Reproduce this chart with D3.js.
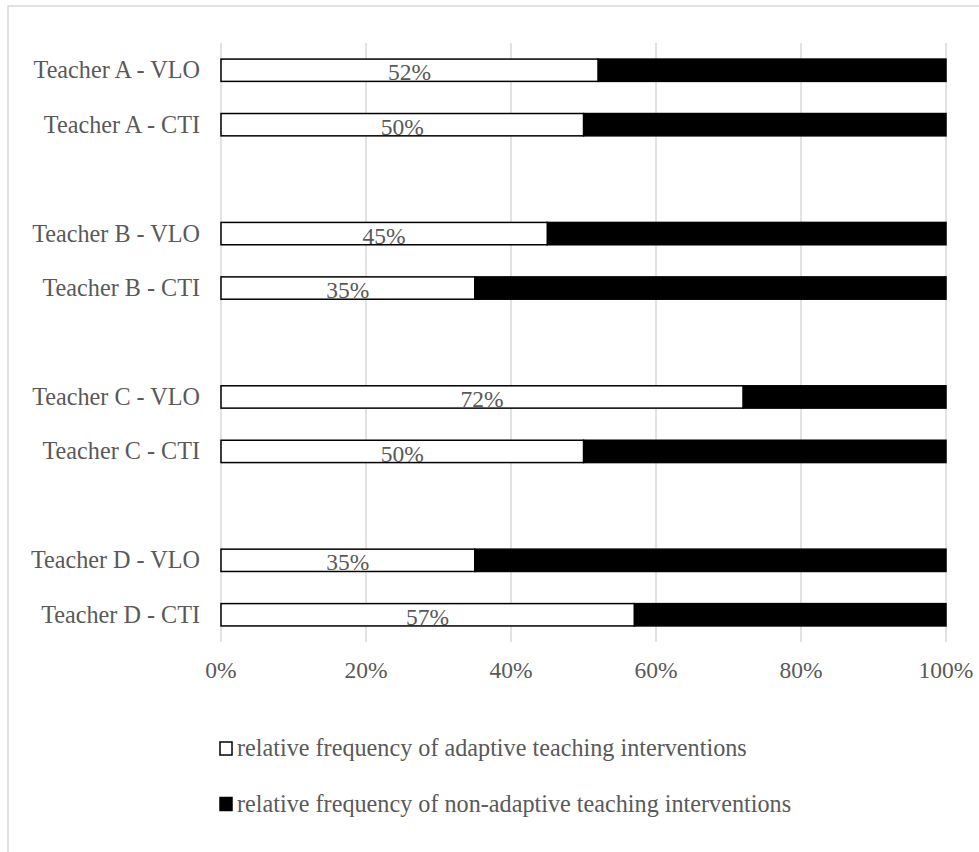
<!DOCTYPE html>
<html>
<head>
<meta charset="utf-8">
<script src="https://cdn.jsdelivr.net/npm/d3@7"></script>
<style>
  body { margin: 0; background: #fff; }
  text { font-family: "Liberation Serif", "Times New Roman", serif; }
</style>
</head>
<body>
<div id="chart"></div>
<script>
// categories top to bottom, blanks are the gaps between teachers
var categories = ["Teacher A - VLO", "Teacher A - CTI", "gap1",
                  "Teacher B - VLO", "Teacher B - CTI", "gap2",
                  "Teacher C - VLO", "Teacher C - CTI", "gap3",
                  "Teacher D - VLO", "Teacher D - CTI"];
var adaptive = [0.52, 0.50, null, 0.45, 0.35, null, 0.72, 0.50, null, 0.35, 0.57];
var nonAdaptive = [0.48, 0.50, null, 0.55, 0.65, null, 0.28, 0.50, null, 0.65, 0.43];
var ticks = [0, 0.2, 0.4, 0.6, 0.8, 1.0];
var legendLabels = ["relative frequency of adaptive teaching interventions",
                    "relative frequency of non-adaptive teaching interventions"];

var width = 979, height = 852;
var margin = { top: 43, left: 221, right: 33, bottom: 210 };
var fs = "23.5px";
var fsLabel = "24.2px";

var svg = d3.select("#chart").append("svg")
    .attr("width", width)
    .attr("height", height);

// outer chart border
svg.append("rect")
    .attr("x", 8).attr("y", 6)
    .attr("width", 990).attr("height", 870)
    .attr("fill", "none")
    .attr("stroke", "#d9d9d9")
    .attr("stroke-width", 1.5);

var x = d3.scaleLinear()
    .domain([0, 1])
    .range([margin.left, width - margin.right]);

var y = d3.scaleBand()
    .domain(categories)
    .range([margin.top, height - margin.bottom])
    .paddingInner(0.59)
    .paddingOuter(0.295);

var yTop = margin.top, yBot = height - margin.bottom;

// gridlines
svg.append("g").selectAll("line")
    .data(ticks)
    .join("line")
    .attr("x1", d => x(d)).attr("x2", d => x(d))
    .attr("y1", yTop).attr("y2", yBot)
    .attr("stroke", "#d9d9d9")
    .attr("stroke-width", 1.5);

// x tick labels
svg.append("g").selectAll("text")
    .data(ticks)
    .join("text")
    .attr("x", d => x(d))
    .attr("y", 678)
    .attr("text-anchor", "middle")
    .attr("fill", "#595959")
    .style("font-size", fs)
    .text(d3.format(".0%"));

var rows = categories.map((c, i) => ({ name: c, a: adaptive[i], n: nonAdaptive[i] }))
    .filter(d => d.a !== null);

// category labels
svg.append("g").selectAll("text")
    .data(rows)
    .join("text")
    .attr("x", 200)
    .attr("y", d => y(d.name) + y.bandwidth() / 2 + 8)
    .attr("text-anchor", "end")
    .attr("fill", "#595959")
    .style("font-size", fsLabel)
    .text(d => d.name);

// non-adaptive (black) segment
svg.append("g").selectAll("rect")
    .data(rows)
    .join("rect")
    .attr("x", d => x(d.a))
    .attr("y", d => y(d.name))
    .attr("width", d => x(d.a + d.n) - x(d.a))
    .attr("height", y.bandwidth())
    .attr("fill", "#000")
    .attr("stroke", "#000")
    .attr("stroke-width", 1.5);

// adaptive (white) segment
svg.append("g").selectAll("rect")
    .data(rows)
    .join("rect")
    .attr("x", x(0))
    .attr("y", d => y(d.name))
    .attr("width", d => x(d.a) - x(0))
    .attr("height", y.bandwidth())
    .attr("fill", "#fff")
    .attr("stroke", "#000")
    .attr("stroke-width", 1.5);

// data labels
svg.append("g").selectAll("text")
    .data(rows)
    .join("text")
    .attr("x", d => (x(0) + x(d.a)) / 2)
    .attr("y", d => y(d.name) + y.bandwidth() - 1)
    .attr("text-anchor", "middle")
    .attr("fill", "#595959")
    .style("font-size", fs)
    .text(d => d3.format(".0%")(d.a));

// legend
var legend = svg.append("g").selectAll("g")
    .data(legendLabels)
    .join("g")
    .attr("transform", (d, i) => `translate(219, ${742 + i * 55.5})`);

legend.append("rect")
    .attr("x", 1).attr("y", 0)
    .attr("width", 12).attr("height", 13)
    .attr("fill", (d, i) => i === 0 ? "#fff" : "#000")
    .attr("stroke", "#000")
    .attr("stroke-width", 1.5);

legend.append("text")
    .attr("x", 18)
    .attr("y", 14)
    .attr("fill", "#595959")
    .style("font-size", fsLabel)
    .text(d => d);
</script>
</body>
</html>
